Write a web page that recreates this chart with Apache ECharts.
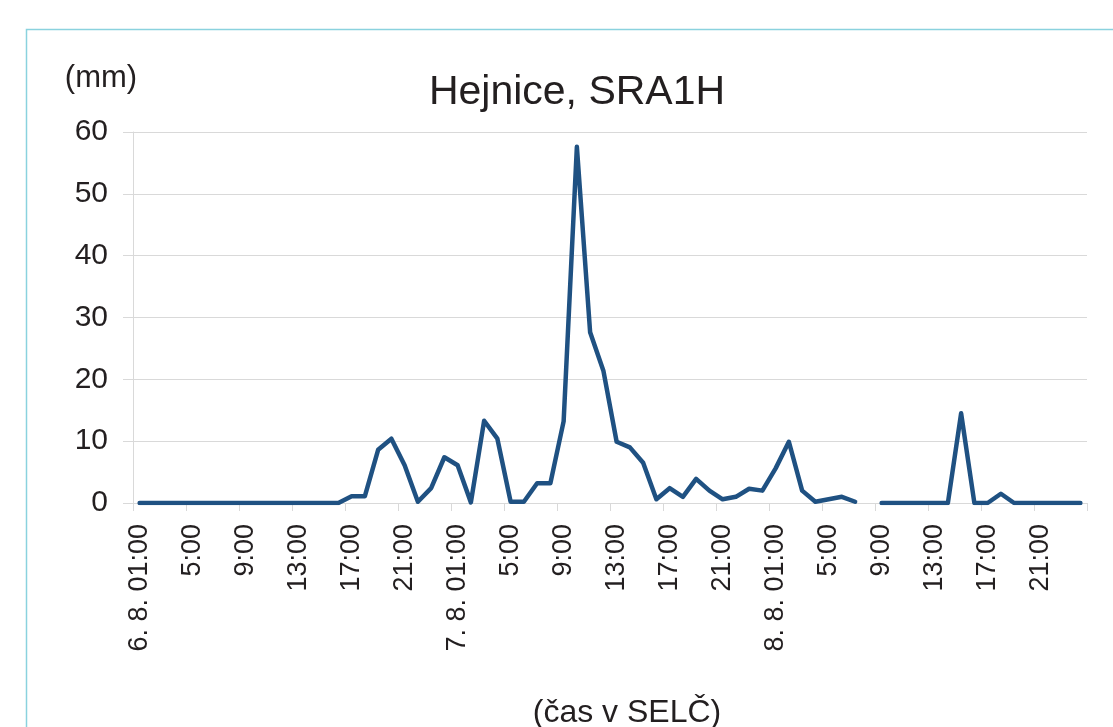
<!DOCTYPE html>
<html>
<head>
<meta charset="utf-8">
<title>Hejnice, SRA1H</title>
<script src="https://cdn.jsdelivr.net/npm/echarts@6/dist/echarts.min.js"></script>
<style>
  html, body { margin: 0; padding: 0; background: #fff; }
  #chart { width: 1113px; height: 727px; }
</style>
</head>
<body>
<div id="chart"></div>
<script>
// days shown on the axis, first hour of each day carries the date
const days = ['6. 8.', '7. 8.', '8. 8.']
const hoursPerDay = 24

// hourly precipitation (mm), 6. 8. 01:00 .. 8. 8. 24:00, null = missing
const rain = [
  0, 0, 0, 0, 0, 0, 0, 0, 0, 0, 0, 0, 0, 0, 0, 0,
  1.1, 1.1, 8.6, 10.4, 6.1, 0.2, 2.4, 7.4,
  6.1, 0.1, 13.3, 10.4, 0.2, 0.2, 3.2, 3.2,
  13.2, 57.6, 27.6, 21.4, 9.9, 9.0, 6.5, 0.6,
  2.4, 1.0, 3.9, 2.0, 0.6, 1.0, 2.3, 2.0,
  5.6, 9.9, 2.0, 0.2, 0.6, 1.0, 0.2, null,
  0, 0, 0, 0, 0, 0, 14.5, 0,
  0, 1.5, 0, 0, 0, 0, 0, 0
]

const yTicks = { min: 0, max: 60, interval: 10 }

const hours = []
days.forEach(d => {
  for (let h = 1; h <= hoursPerDay; h++) {
    hours.push(h === 1 ? d + ' 01:00' : h + ':00')
  }
})

const gridColor = '#d9d9d9'
const textColor = '#231f20'
const font = '"Liberation Sans", Arial, sans-serif'

const chart = echarts.init(document.getElementById('chart'))

const option = {
  animation: false,
  backgroundColor: '#fff',
  grid: {
    left: 133,
    right: 26,
    top: 132,
    bottom: 224
  },
  graphic: [
    {
      type: 'rect',
      shape: { x: 26.5, y: 29.5, width: 1200, height: 800 },
      style: { fill: 'none', stroke: '#8ad2de', lineWidth: 1.5 },
      silent: true
    },
    {
      type: 'text',
      x: 577, y: 93,
      style: { text: 'Hejnice, SRA1H', fill: textColor, font: '41px ' + font, align: 'center', verticalAlign: 'middle' }
    },
    {
      type: 'text',
      x: 101, y: 78,
      style: { text: '(mm)', fill: textColor, font: '31px ' + font, align: 'center', verticalAlign: 'middle' }
    },
    {
      type: 'text',
      x: 627, y: 713,
      style: { text: '(čas v SELČ)', fill: textColor, font: '32px ' + font, align: 'center', verticalAlign: 'middle' }
    }
  ],
  xAxis: {
    type: 'category',
    data: hours,
    boundaryGap: true,
    axisLine: { show: true, lineStyle: { color: gridColor, width: 1 } },
    axisTick: { show: true, interval: 3, length: 8, lineStyle: { color: gridColor } },
    axisLabel: {
      interval: 3,
      rotate: 90,
      margin: 21,
      color: textColor,
      fontSize: 27,
      fontFamily: font
    },
    splitLine: { show: false }
  },
  yAxis: {
    type: 'value',
    min: yTicks.min,
    max: yTicks.max,
    interval: yTicks.interval,
    axisLine: { show: true, lineStyle: { color: gridColor, width: 1 } },
    axisTick: { show: true, length: 10, lineStyle: { color: gridColor } },
    axisLabel: {
      margin: 25,
      color: textColor,
      fontSize: 30,
      fontFamily: font
    },
    splitLine: { show: true, lineStyle: { color: gridColor, width: 1 } }
  },
  series: [
    {
      name: 'SRA1H',
      type: 'line',
      data: rain,
      connectNulls: false,
      showSymbol: false,
      symbol: 'none',
      lineStyle: { color: '#1f5182', width: 4.5, join: 'round', cap: 'round' }
    }
  ]
}

chart.setOption(option)
</script>
</body>
</html>
